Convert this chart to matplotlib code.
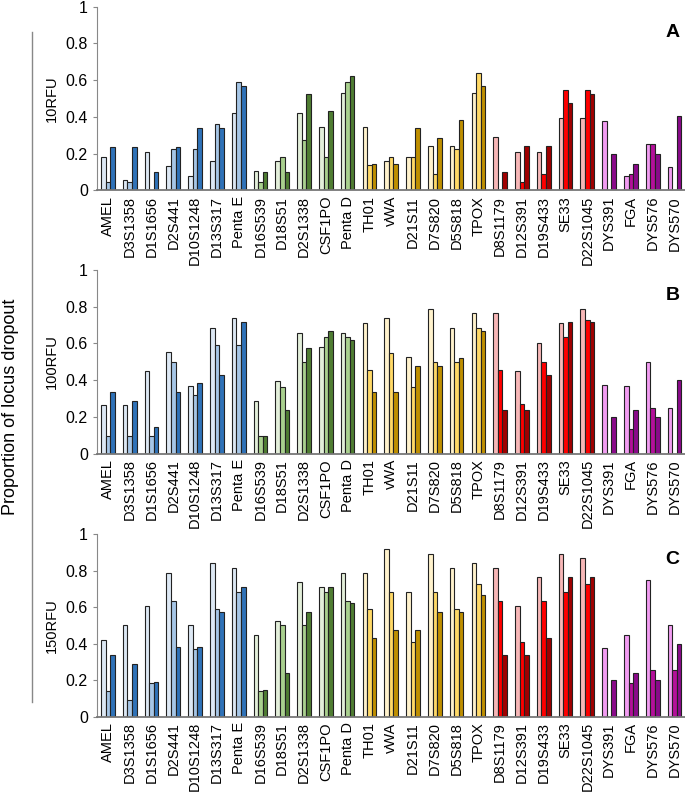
import numpy as np
import matplotlib
matplotlib.use("Agg")
import matplotlib.pyplot as plt

plt.rcParams['font.family'] = ['Liberation Sans', 'DejaVu Sans']

# loci and dye groups
loci = ['AMEL', 'D3S1358', 'D1S1656', 'D2S441', 'D10S1248', 'D13S317', 'Penta E',
        'D16S539', 'D18S51', 'D2S1338', 'CSF1PO', 'Penta D',
        'TH01', 'vWA', 'D21S11', 'D7S820', 'D5S818', 'TPOX',
        'D8S1179', 'D12S391', 'D19S433', 'SE33', 'D22S1045',
        'DYS391', 'FGA', 'DYS576', 'DYS570']
group_sizes = [7, 5, 6, 5, 4]

# shades per group: lightest, middle, darkest
group_colors = [
    ['#dde8f4', '#a6c6e6', '#2f72b8'],   # blue
    ['#e3efda', '#a9d08e', '#4f7d32'],   # green
    ['#fff2cc', '#ffd966', '#bf8f00'],   # yellow
    ['#f7b7b7', '#ff0000', '#a00000'],   # red
    ['#f29cf2', '#b4109a', '#8a0a8a'],   # purple
]

# 10RFU
light_10 = [0.18, 0.054, 0.21, 0.13, 0.078, 0.16, 0.42, 0.105, 0.16, 0.42, 0.345, 0.53,
            0.345, 0.16, 0.183, 0.24, 0.24, 0.53, 0.29, 0.21, 0.21, 0.395, 0.395,
            0.375, 0.078, 0.25, 0.125]
mid_10 = [0.047, 0.047, 0, 0.227, 0.227, 0.363, 0.592, 0.047, 0.183, 0.272, 0.183, 0.592,
          0.138, 0.183, 0.183, 0.089, 0.227, 0.637, 0, 0.047, 0.089, 0.546, 0.546,
          0, 0.089, 0.25, 0]
dark_10 = [0.238, 0.238, 0.098, 0.238, 0.338, 0.338, 0.57, 0.098, 0.098, 0.523, 0.432, 0.622,
           0.145, 0.145, 0.338, 0.287, 0.385, 0.57, 0.098, 0.24, 0.24, 0.477, 0.524,
           0.2, 0.145, 0.2, 0.403]

# 100RFU
light_100 = [0.264, 0.264, 0.449, 0.553, 0.369, 0.685, 0.736, 0.287, 0.395, 0.658, 0.58, 0.658,
             0.709, 0.736, 0.525, 0.785, 0.685, 0.764, 0.764, 0.447, 0.604, 0.709, 0.785,
             0.371, 0.369, 0.498, 0.247]
mid_100 = [0.093, 0.093, 0.093, 0.498, 0.318, 0.593, 0.593, 0.093, 0.36, 0.498, 0.635, 0.635,
           0.455, 0.547, 0.36, 0.498, 0.498, 0.682, 0.455, 0.271, 0.498, 0.635, 0.729,
           0, 0.133, 0.247, 0]
dark_100 = [0.335, 0.287, 0.144, 0.335, 0.382, 0.427, 0.715, 0.096, 0.236, 0.573, 0.667, 0.62,
            0.335, 0.335, 0.475, 0.475, 0.522, 0.667, 0.236, 0.236, 0.427, 0.715, 0.715,
            0.2, 0.236, 0.2, 0.4]

# 150RFU
light_150 = [0.42, 0.50, 0.604, 0.789, 0.50, 0.84, 0.814, 0.447, 0.526, 0.735, 0.71, 0.789,
             0.789, 0.92, 0.685, 0.89, 0.814, 0.84, 0.814, 0.604, 0.764, 0.89, 0.87,
             0.378, 0.447, 0.75, 0.50]
mid_150 = [0.139, 0.094, 0.184, 0.634, 0.368, 0.591, 0.681, 0.139, 0.50, 0.50, 0.681, 0.634,
           0.591, 0.681, 0.411, 0.681, 0.591, 0.728, 0.634, 0.411, 0.634, 0.681, 0.728,
           0, 0.184, 0.254, 0.254]
dark_150 = [0.335, 0.288, 0.191, 0.382, 0.382, 0.573, 0.712, 0.146, 0.238, 0.573, 0.712, 0.62,
            0.429, 0.476, 0.476, 0.573, 0.573, 0.667, 0.335, 0.335, 0.429, 0.764, 0.764,
            0.2, 0.238, 0.2, 0.40]

panels = [
    ('10RFU', 'A', [light_10, mid_10, dark_10]),
    ('100RFU', 'B', [light_100, mid_100, dark_100]),
    ('150RFU', 'C', [light_150, mid_150, dark_150]),
]

# colour of each bar, per shade
shade_colors = [[], [], []]
for g, n in enumerate(group_sizes):
    for s in range(3):
        shade_colors[s] += [group_colors[g][s]] * n

fig = plt.figure(figsize=(6.85, 7.98), dpi=100)
boxes = [[0.1416, 0.7615, 0.859, 0.2301],
         [0.1416, 0.4317, 0.859, 0.2300],
         [0.1416, 0.1019, 0.859, 0.2289]]

x = np.arange(len(loci))
w = 0.21
for (ylab, letter, series), box in zip(panels, boxes):
    ax = fig.add_axes(box)
    for s, vals in enumerate(series):
        ax.bar(x + (s - 1) * w, vals, width=w, color=shade_colors[s],
               edgecolor='#222222', linewidth=0.8)
    ax.set_xlim(-0.5, len(loci) - 0.5)
    ax.set_ylim(0, 1)
    ax.set_yticks([0, 0.2, 0.4, 0.6, 0.8, 1])
    ax.set_yticklabels(['0', '0.2', '0.4', '0.6', '0.8', '1'])
    ax.set_xticks(x)
    ax.set_xticklabels(loci, rotation=90)
    ax.tick_params(axis='x', length=0, labelsize=10.5, pad=4)
    ax.tick_params(axis='y', length=3, labelsize=11.5, color='#888888')
    for sp in ['top', 'right']:
        ax.spines[sp].set_visible(False)
    ax.spines['left'].set_color('#888888')
    ax.spines['bottom'].set_color('#777777')
    ax.spines['bottom'].set_linewidth(1.3)
    ax.set_ylabel(ylab, fontsize=10.5, labelpad=5)
    ax.text(0.99, 0.86, letter, transform=ax.transAxes, fontsize=14,
            fontweight='bold', ha='right', va='center')

# shared label and grey rule on the left
fig.text(0.016, 0.49, 'Proportion of locus dropout', rotation=90,
         fontsize=13, ha='center', va='center')
fig.add_artist(plt.Line2D([0.0467, 0.0467], [0.1203, 0.96],
                          transform=fig.transFigure, color='#888888', linewidth=1))

fig.savefig('out.png', dpi=100)
